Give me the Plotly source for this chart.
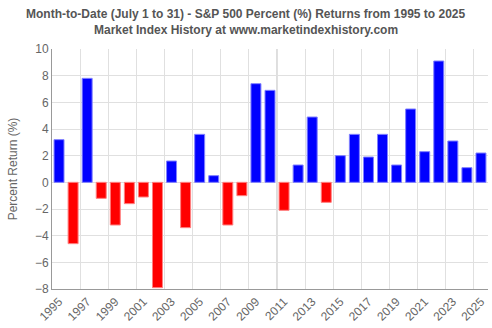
import plotly.graph_objects as go

years = list(range(1995, 2026))
returns = [3.2, -4.6, 7.8, -1.2, -3.2, -1.6, -1.1, -7.9, 1.6, -3.4,
           3.6, 0.5, -3.2, -1.0, 7.4, 6.9, -2.1, 1.3, 4.9, -1.5,
           2.0, 3.6, 1.9, 3.6, 1.3, 5.5, 2.3, 9.1, 3.1, 1.1, 2.2]
tick_years = list(range(1995, 2026, 2))
y_ticks = list(range(-8, 11, 2))
title_lines = ["Month-to-Date (July 1 to 31) - S&P 500 Percent (%) Returns from 1995 to 2025",
               "Market Index History at www.marketindexhistory.com"]

colors = ["#0000ff" if v >= 0 else "#ff0000" for v in returns]
line_colors = ["#8080ff" if v >= 0 else "#ff8080" for v in returns]

fig = go.Figure()
fig.add_trace(go.Bar(
    x=years, y=returns, width=0.71,
    marker=dict(color=colors, line=dict(color=line_colors, width=1)),
    hovertemplate="%{x}: %{y}%<extra></extra>",
))

fig.add_shape(type="line", xref="x", yref="y", x0=2010.5, x1=2010.5, y0=-8, y1=10,
              line=dict(color="#bbbbbb", width=1), layer="below")

plot_h = 328 - 49 - 36
for txt, ypx in zip(title_lines, [14, 30]):
    fig.add_annotation(text="<b>" + txt + "</b>", xref="paper", yref="paper",
                       x=0.5 - 24 / 436, xanchor="center", y=1 + (49 - ypx) / plot_h, yanchor="middle",
                       showarrow=False, font=dict(size=12, color="#555555"))

fig.update_layout(
    width=492, height=328,
    margin=dict(l=52, r=4, t=49, b=36),
    paper_bgcolor="white", plot_bgcolor="white",
    font=dict(family="Liberation Sans, Arial, sans-serif", size=12, color="#666666"),
    showlegend=False,
    bargap=0.29,
)
fig.update_xaxes(
    range=[1994.5, 2025.5], tickmode="array", tickvals=tick_years,
    ticktext=[str(y) for y in tick_years], tickangle=-45,
    showgrid=False, showline=True, linecolor="#999999", linewidth=1,
    ticks="", tickfont=dict(size=12, color="#666666"),
    minor=dict(tickmode="linear", tick0=1994.5, dtick=2, showgrid=True,
               gridcolor="#e0e0e0", gridwidth=1, ticks=""),
    zeroline=False, fixedrange=True,
)
fig.update_yaxes(
    range=[-8, 10], tickmode="array", tickvals=y_ticks,
    showgrid=True, gridcolor="#e0e0e0", gridwidth=1,
    showline=True, linecolor="#999999", linewidth=1,
    zeroline=False, ticks="",
    title=dict(text="Percent Return (%)", font=dict(size=12, color="#666666"), standoff=14),
    tickfont=dict(size=12, color="#666666"), fixedrange=True,
)

fig.write_html("out.html")
